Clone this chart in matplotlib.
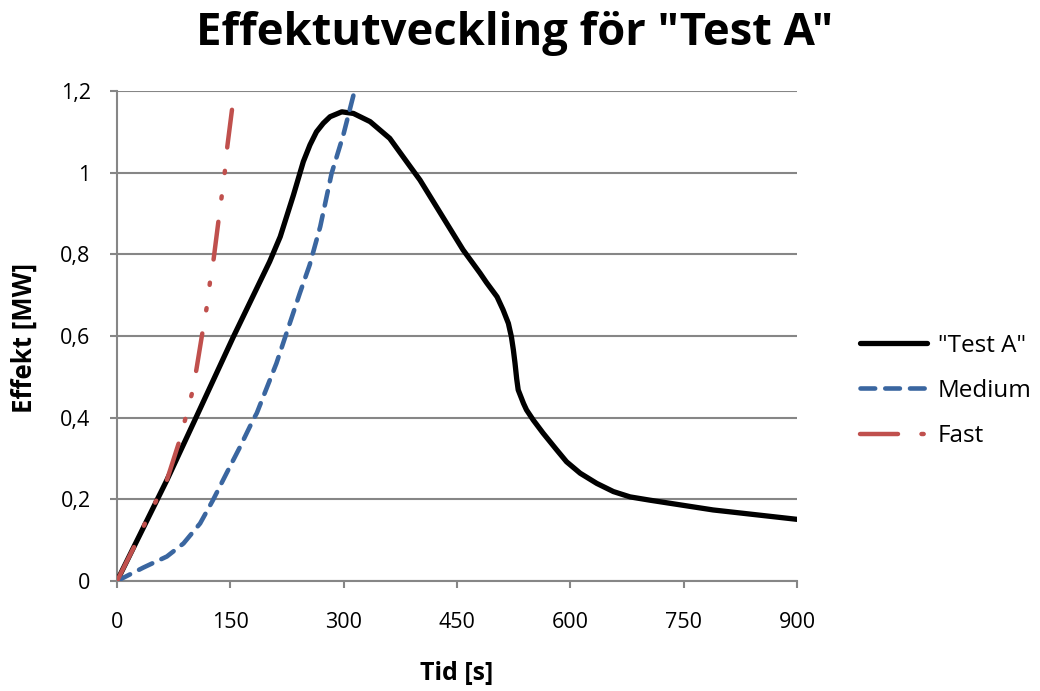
import matplotlib
matplotlib.use("Agg")
import matplotlib.pyplot as plt

plt.rcParams['font.family'] = ['Open Sans', 'DejaVu Sans']

# Data
test_t = [0, 66, 105, 154, 202, 216, 233.5, 246.6, 255.4, 264, 273, 282, 297.5, 313, 335,
          361, 388, 401, 458, 480.5, 489, 503, 511, 518, 522, 524.6, 526.8, 529, 531, 538,
          542, 551, 564, 582, 595, 613, 635, 657, 679, 705, 789, 900]
test_p = [0, 0.247, 0.402, 0.598, 0.782, 0.843, 0.945, 1.027, 1.068, 1.100, 1.121, 1.137,
          1.149, 1.145, 1.125, 1.084, 1.015, 0.982, 0.811, 0.754, 0.731, 0.696, 0.664,
          0.631, 0.598, 0.566, 0.533, 0.495, 0.468, 0.435, 0.419, 0.394, 0.362, 0.321,
          0.292, 0.264, 0.239, 0.219, 0.206, 0.198, 0.174, 0.151]

med_t = [0, 35, 66, 88, 110, 127, 145, 163, 180, 185, 211, 242, 255, 269, 284, 299.5, 313]
med_p = [0, 0.033, 0.060, 0.092, 0.141, 0.198, 0.264, 0.329, 0.394, 0.411, 0.533, 0.705,
         0.774, 0.868, 0.998, 1.092, 1.190]

fast_t = [0, 26, 38, 52, 66, 83, 91, 99, 105, 114, 119, 123, 128, 135, 139, 143, 146, 153]
fast_p = [0, 0.096, 0.145, 0.197, 0.247, 0.345, 0.401, 0.458, 0.517, 0.619, 0.673, 0.731,
          0.790, 0.892, 0.948, 1.007, 1.064, 1.166]

x_ticks = [0, 150, 300, 450, 600, 750, 900]
y_ticks = [0, 0.2, 0.4, 0.6, 0.8, 1.0, 1.2]
y_labels = ['0', '0,2', '0,4', '0,6', '0,8', '1', '1,2']

fig = plt.figure(figsize=(10.4, 6.91), dpi=100)
ax = fig.add_axes([117/1040, 1-581/691, 680/1040, 490/691])

grid_c = '#868686'
ax.plot(test_t, test_p, color='black', lw=3.8, solid_capstyle='round',
        solid_joinstyle='round', label='"Test A"', zorder=3)
ax.plot(med_t, med_p, color='#3A66A0', lw=3.3, ls=(0, (3.2, 2.2)),
        dash_capstyle='round', dash_joinstyle='round', label='Medium', zorder=4)
ax.plot(fast_t, fast_p, color='#C0504D', lw=3.2,
        ls=(0, (8.55, 5.28, 0.5, 5.28, 0.5, 5.28)),
        dash_capstyle='round', dash_joinstyle='round', label='Fast', zorder=5)

ax.set_xlim(0, 900)
ax.set_ylim(0, 1.2)
ax.set_xticks(x_ticks)
ax.set_xticklabels([str(v) for v in x_ticks])
ax.set_yticks(y_ticks)
ax.set_yticklabels(y_labels)
ax.yaxis.grid(True, color=grid_c, lw=1.5, zorder=0)
ax.set_axisbelow(True)
for s in ['top', 'right']:
    ax.spines[s].set_visible(False)
for s in ['left', 'bottom']:
    ax.spines[s].set_color(grid_c)
    ax.spines[s].set_linewidth(1.5)
ax.tick_params(axis='both', colors=grid_c, width=1.5, length=5, labelsize=15.5,
               labelcolor='black')
ax.tick_params(axis='x', pad=17)
ax.tick_params(axis='y', pad=14)

fig.suptitle('Effektutveckling för "Test A"', x=0.495, y=1-33/691, va='center',
             fontsize=32.7, fontweight='bold')
fig.text(457/1040, 1-673/691, 'Tid [s]', ha='center', va='center', fontsize=18,
         fontweight='bold')
fig.text(24/1040, 1-338/691, 'Effekt [MW]', ha='center', va='center', fontsize=18.5,
         fontweight='bold', rotation=90)

leg = ax.legend(loc='center left', bbox_to_anchor=(860/1040, 1-391/691),
                bbox_transform=fig.transFigure, frameon=False, fontsize=17.5,
                handlelength=2.75, handletextpad=0.45, labelspacing=0.88,
                borderpad=0, borderaxespad=0)

fig.savefig('out.png', dpi=100)
